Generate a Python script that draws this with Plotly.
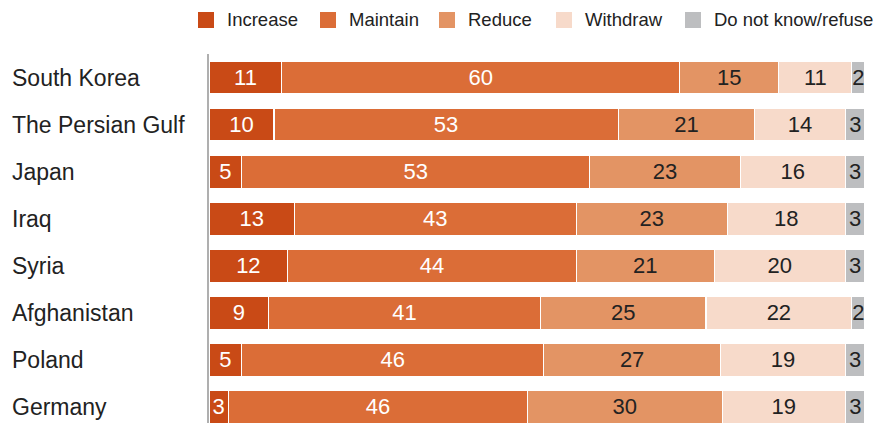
import plotly.graph_objects as go

countries = ['South Korea', 'The Persian Gulf', 'Japan', 'Iraq', 'Syria',
             'Afghanistan', 'Poland', 'Germany']
increase = [11, 10, 5, 13, 12, 9, 5, 3]
maintain = [60, 53, 53, 43, 44, 41, 46, 46]
reduce_ = [15, 21, 23, 23, 21, 25, 27, 30]
withdraw = [11, 14, 16, 18, 20, 22, 19, 19]
dont_know = [2, 3, 3, 3, 3, 2, 3, 3]

series = [
    ('Increase', increase, '#C94A16', 'white'),
    ('Maintain', maintain, '#DB6D37', 'white'),
    ('Reduce', reduce_, '#E39464', '#222222'),
    ('Withdraw', withdraw, '#F7DACA', '#222222'),
    ('Do not know/refuse', dont_know, '#BDBEC0', '#222222'),
]

# legend swatch left edges in page pixels (page has an 8px body margin)
legend_x = [198, 320, 439, 556, 685]

font_family = 'Liberation Sans, Arial, sans-serif'
W, H = 885, 415
L, R, T, B = 201, 28, 46, 0
pw, ph = W - L - R, H - T - B


def px_x(x):
    # page pixel -> paper coordinate
    return (x - 8 - L) / pw


def px_y(y):
    return (H + 8 - y - B) / ph


fig = go.Figure()
for name, vals, color, txtcolor in series:
    fig.add_trace(go.Bar(
        y=countries, x=vals, name=name, orientation='h',
        marker=dict(color=color, line=dict(color='white', width=1.2)),
        text=vals, texttemplate='%{text}', textposition='inside',
        insidetextanchor='middle',
        insidetextfont=dict(color=txtcolor, size=22, family=font_family),
        hovertemplate='%{y}: %{text}<extra>' + name + '</extra>',
        showlegend=False,
    ))

# left-aligned category labels
for c in countries:
    fig.add_annotation(x=px_x(10), xref='paper', y=c, yref='y',
                       text=c, showarrow=False, xanchor='left',
                       font=dict(size=23, color='#222222', family=font_family))

# legend drawn by hand to match the swatch sizes and spacing
for (name, vals, color, txtcolor), lx in zip(series, legend_x):
    fig.add_shape(type='rect', xref='paper', yref='paper',
                  x0=px_x(lx), x1=px_x(lx + 16), y0=px_y(28), y1=px_y(12),
                  fillcolor=color, line=dict(width=0))
    fig.add_annotation(x=px_x(lx + 27), xref='paper', y=px_y(20), yref='paper',
                       text=name, showarrow=False, xanchor='left', yanchor='middle',
                       font=dict(size=18.5, color='#222222', family=font_family))

fig.update_layout(
    width=W, height=H,
    barmode='stack', barnorm='percent', bargap=0.3,
    margin=dict(l=L, r=R, t=T, b=B, autoexpand=False),
    plot_bgcolor='white', paper_bgcolor='white',
    font=dict(family=font_family, color='#222222'),
    uniformtext=dict(minsize=21, mode='show'),
    showlegend=False,
    xaxis=dict(range=[0, 100], visible=False, fixedrange=True),
    yaxis=dict(categoryorder='array', categoryarray=countries,
               range=[7.34, -0.5], showticklabels=False, showgrid=False,
               zeroline=False, showline=True, linecolor='#AFAFAF', linewidth=2,
               ticks='', fixedrange=True),
)

fig.write_html('out.html')
